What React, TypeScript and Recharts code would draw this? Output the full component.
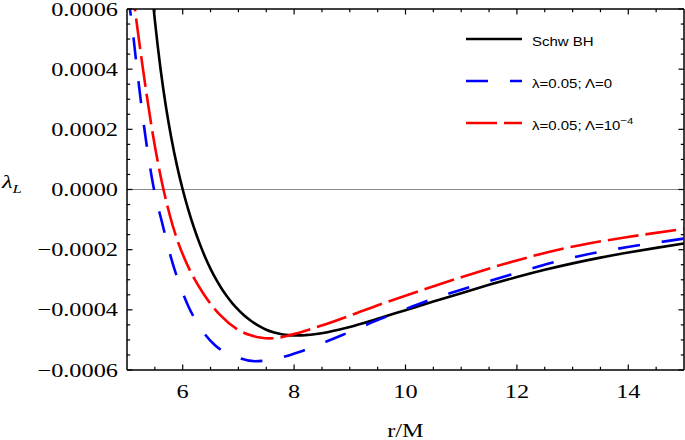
import React from 'react';
import { LineChart, Line, XAxis, YAxis, ReferenceLine, Legend } from 'recharts';

// Schwarzschild BH
const schwR = [5.3, 5.4, 5.5, 5.6, 5.7, 5.8, 5.9, 6.0, 6.1, 6.2, 6.3, 6.4, 6.5, 6.6, 6.7, 6.8, 6.9, 7.0, 7.1, 7.2, 7.3, 7.4, 7.5, 7.6, 7.7, 7.8, 7.9, 8.0, 8.1, 8.2, 8.4, 8.6, 8.8, 9.0, 9.5, 10.0, 10.5, 11.0, 11.5, 12.0, 12.5, 13.0, 13.5, 14.0, 14.5, 15.0];
const schwL = [0.000993, 0.000757, 0.000563, 0.000404, 0.000274, 0.000167, 0.0000769, 0, -0.0000668, -0.0001255, -0.0001775, -0.0002235, -0.0002638, -0.000299, -0.0003298, -0.0003565, -0.00038, -0.0004, -0.000418, -0.000433, -0.000446, -0.000457, -0.000466, -0.000473, -0.000478, -0.000482, -0.000484, -0.000485, -0.000485, -0.0004842, -0.0004805, -0.0004744, -0.0004664, -0.000457, -0.0004295, -0.000401, -0.0003725, -0.0003445, -0.000317, -0.000291, -0.000267, -0.0002455, -0.0002265, -0.0002095, -0.000194, -0.0001795];

// lambda = 0.05, Lambda = 0
const blueR = [5.0, 5.054, 5.18, 5.305, 5.485, 5.623, 5.803, 5.952, 6.101, 6.311, 6.58, 6.908, 7.298, 7.688, 8.106, 8.465, 9.004, 9.542, 9.955, 10.44, 11.21, 12.0, 12.59, 13.13, 13.99, 14.93, 15.0];
const blueL = [0.00065, 0.000597, 0.0004, 0.000211, 0, -0.000105, -0.000235, -0.00032, -0.000388, -0.000458, -0.000518, -0.000552, -0.000571, -0.000562, -0.000539, -0.000514, -0.000473, -0.000431, -0.000401, -0.000367, -0.000321, -0.000277, -0.000245, -0.000221, -0.000191, -0.000165, -0.000163];

// lambda = 0.05, Lambda = 1e-4
const redR = [5.0, 5.144, 5.287, 5.449, 5.655, 5.772, 5.916, 6.077, 6.364, 6.67, 6.975, 7.208, 7.388, 7.567, 7.747, 8.106, 8.465, 9.004, 9.542, 10.26, 11.03, 11.82, 12.59, 13.13, 13.99, 15.0];
const redL = [0.00082, 0.000597, 0.0004, 0.0002, 0, -0.000088, -0.000175, -0.000248, -0.000344, -0.000417, -0.000464, -0.000484, -0.000492, -0.000495, -0.000492, -0.000475, -0.000454, -0.000419, -0.000382, -0.000337, -0.00029, -0.000245, -0.000207, -0.000185, -0.000158, -0.000131];

const xMajorTicks = [6, 8, 10, 12, 14];
const xMinorTicks = [5.5, 6.5, 7, 7.5, 8.5, 9, 9.5, 10.5, 11, 11.5, 12.5, 13, 13.5, 14.5];
const yMajorTicks = [-0.0006, -0.0004, -0.0002, 0, 0.0002, 0.0004, 0.0006];
const yMinorTicks = [-0.00055, -0.0005, -0.00045, -0.00035, -0.0003, -0.00025, -0.00015, -0.0001, -0.00005, 0.00005, 0.0001, 0.00015, 0.00025, 0.0003, 0.00035, 0.00045, 0.0005, 0.00055];
const yTickLabels = ['\u22120.0006', '\u22120.0004', '\u22120.0002', '0.0000', '0.0002', '0.0004', '0.0006'];
const legendLabels = ['Schw BH', '\u03bb=0.05; \u039b=0', '\u03bb=0.05; \u039b=10'];

const toPoints = (r: number[], v: number[]) => r.map((x, i) => ({ r: x, v: v[i] }));
const schwData = toPoints(schwR, schwL);
const blueData = toPoints(blueR, blueL);
const redData = toPoints(redR, redL);

const allX = [...xMajorTicks, ...xMinorTicks].sort((a, b) => a - b);
const allY = [...yMajorTicks, ...yMinorTicks].sort((a, b) => a - b);

const SERIF = '"Liberation Serif", "Times New Roman", serif';
const SANS = '"Liberation Sans", Arial, sans-serif';
const SX = 1.28;
const MAJ = 5.5;
const MIN = 3.2;

const isMajor = (v: number, list: number[]) => list.findIndex((m) => Math.abs(m - v) < 1e-9);

const BottomTick = (props: any) => {
  const { x, y, payload } = props;
  const idx = isMajor(payload.value, xMajorTicks);
  const len = idx >= 0 ? MAJ : MIN;
  return (
    <g>
      <line x1={x} x2={x} y1={y} y2={y - len} stroke="#000" strokeWidth={1.2} />
      {idx >= 0 && (
        <text transform={`translate(${x},${y + 28}) scale(${SX},1)`} textAnchor="middle" fontFamily={SERIF} fontSize={19} fill="#000">
          {String(xMajorTicks[idx])}
        </text>
      )}
    </g>
  );
};

const TopTick = (props: any) => {
  const { x, y, payload } = props;
  const len = isMajor(payload.value, xMajorTicks) >= 0 ? MAJ : MIN;
  return <line x1={x} x2={x} y1={y} y2={y + len} stroke="#000" strokeWidth={1.2} />;
};

const LeftTick = (props: any) => {
  const { x, y, payload } = props;
  const idx = isMajor(payload.value, yMajorTicks);
  const len = idx >= 0 ? MAJ : MIN;
  return (
    <g>
      <line x1={x} x2={x + len} y1={y} y2={y} stroke="#000" strokeWidth={1.2} />
      {idx >= 0 && (
        <text transform={`translate(${x - 9},${y + 6.5}) scale(${SX},1)`} textAnchor="end" fontFamily={SERIF} fontSize={19} fill="#000">
          {yTickLabels[idx]}
        </text>
      )}
    </g>
  );
};

const RightTick = (props: any) => {
  const { x, y, payload } = props;
  const len = isMajor(payload.value, yMajorTicks) >= 0 ? MAJ : MIN;
  return <line x1={x} x2={x - len} y1={y} y2={y} stroke="#000" strokeWidth={1.2} />;
};

const XLabel = (props: any) => {
  const vb = props.viewBox || {};
  const cx = vb.x + vb.width / 2;
  return (
    <text transform={`translate(${cx},${vb.y + 67}) scale(${SX},1)`} textAnchor="middle" fontFamily={SERIF} fontSize={19} fill="#000">
      r/M
    </text>
  );
};

const YLabel = (props: any) => {
  const vb = props.viewBox || {};
  const cy = vb.y + vb.height / 2;
  return (
    <text transform={`translate(2,${cy - 2}) scale(${SX},1)`} fontFamily={SERIF} fontSize={19} fontStyle="italic" fill="#000">
      {'\u03bb'}
      <tspan fontSize={13} dy={5}>L</tspan>
    </text>
  );
};

const renderLegend = () => (
  <svg width={245} height={125} style={{ overflow: 'visible', display: 'block' }}>
    <line x1={26} x2={82} y1={19} y2={19} stroke="#000" strokeWidth={2.6} />
    <text transform="translate(92,26) scale(1.2,1)" fontFamily={SANS} fontSize={12.5} fill="#000">{legendLabels[0]}</text>
    <line x1={26} x2={82} y1={61} y2={61} stroke="#0000ff" strokeWidth={2.6} strokeDasharray="22 22" />
    <text transform="translate(92,68) scale(1.2,1)" fontFamily={SANS} fontSize={12.5} fill="#000">{legendLabels[1]}</text>
    <line x1={26} x2={82} y1={103} y2={103} stroke="#ff0000" strokeWidth={2.6} strokeDasharray="31 7" />
    <text transform="translate(92,110) scale(1.2,1)" fontFamily={SANS} fontSize={12.5} fill="#000">
      {legendLabels[2]}
      <tspan fontSize={9.5} dy={-6}>{'\u22124'}</tspan>
    </text>
  </svg>
);

export default function App() {
  return (
    <div style={{ position: 'absolute', left: 0, top: 0, width: 685, height: 440, background: '#fff' }}>
      <LineChart width={685} height={440} margin={{ top: 8, right: 0, bottom: 0, left: 0 }}>
        <XAxis
          xAxisId="bottom"
          dataKey="r"
          type="number"
          domain={[5, 15]}
          allowDataOverflow
          ticks={allX}
          interval={0}
          height={70}
          tickSize={0}
          tickMargin={0}
          tickLine={false}
          tick={BottomTick}
          axisLine={{ stroke: '#000', strokeWidth: 1.5 }}
          label={<XLabel />}
        />
        <XAxis
          xAxisId="top"
          orientation="top"
          dataKey="r"
          type="number"
          domain={[5, 15]}
          allowDataOverflow
          ticks={allX}
          interval={0}
          height={1}
          tickSize={0}
          tickMargin={0}
          tickLine={false}
          tick={TopTick}
          axisLine={{ stroke: '#000', strokeWidth: 1.5 }}
        />
        <YAxis
          yAxisId="left"
          type="number"
          domain={[-0.0006, 0.0006]}
          allowDataOverflow
          ticks={allY}
          interval={0}
          width={127}
          tickSize={0}
          tickMargin={0}
          tickLine={false}
          tick={LeftTick}
          axisLine={{ stroke: '#000', strokeWidth: 1.5 }}
          label={<YLabel />}
        />
        <YAxis
          yAxisId="right"
          orientation="right"
          type="number"
          domain={[-0.0006, 0.0006]}
          allowDataOverflow
          ticks={allY}
          interval={0}
          width={1}
          tickSize={0}
          tickMargin={0}
          tickLine={false}
          tick={RightTick}
          axisLine={{ stroke: '#000', strokeWidth: 1.5 }}
        />
        <ReferenceLine xAxisId="bottom" yAxisId="left" y={0} stroke="#8a8a8a" strokeWidth={1.2} />
        <Line xAxisId="bottom" yAxisId="left" data={schwData} dataKey="v" type="monotone" stroke="#000" strokeWidth={2.6} dot={false} isAnimationActive={false} />
        <Line xAxisId="bottom" yAxisId="left" data={blueData} dataKey="v" type="monotone" stroke="#0000ff" strokeWidth={2.6} strokeDasharray="22 22" dot={false} isAnimationActive={false} />
        <Line xAxisId="bottom" yAxisId="left" data={redData} dataKey="v" type="monotone" stroke="#ff0000" strokeWidth={2.6} strokeDasharray="31 7" dot={false} isAnimationActive={false} />
        <Legend
          layout="vertical"
          verticalAlign="middle"
          align="center"
          wrapperStyle={{ left: 440, top: 20, width: 245, height: 125 }}
          content={renderLegend}
        />
      </LineChart>
    </div>
  );
}
